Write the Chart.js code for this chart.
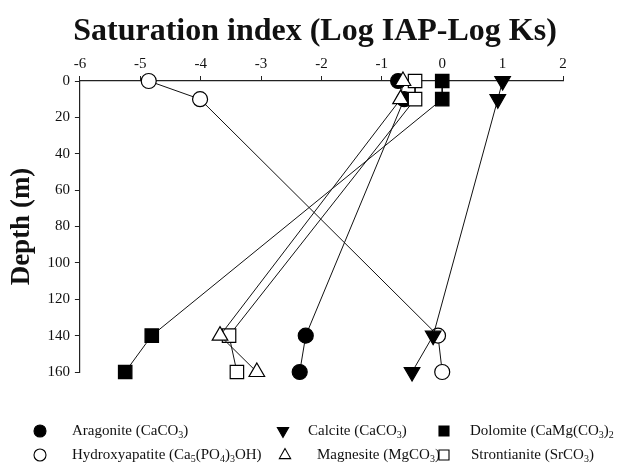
<!DOCTYPE html>
<html>
<head>
<meta charset="utf-8">
<script src="https://cdn.jsdelivr.net/npm/chart.js@4/dist/chart.umd.min.js"></script>
<style>
  html, body { margin: 0; padding: 0; background: #fff; }
  #wrap { width: 618px; height: 463px; }
</style>
</head>
<body>
<div id="wrap"><canvas id="c" width="618" height="463"></canvas></div>
<script>
// Sampling depths (m)
const depths = [0, 10, 140, 160];

// Saturation index per mineral at each depth
const aragonite      = [-0.73, -0.63, -2.26, -2.36];
const calcite        = [1.00, 0.92, -0.15, -0.50];
const dolomite       = [0.00, 0.00, -4.81, -5.25];
const hydroxyapatite = [-4.86, -4.01, -0.07, 0.00];
const magnesite      = [-0.65, -0.69, -3.68, -3.07];
const strontianite   = [-0.45, -0.45, -3.53, -3.40];

// Mineral names (digits in formulas are drawn as subscripts)
const names = [
  'Aragonite (CaCO3)',
  'Calcite (CaCO3)',
  'Dolomite (CaMg(CO3)2',
  'Hydroxyapatite (Ca5(PO4)3OH)',
  'Magnesite (MgCO3)',
  'Strontianite (SrCO3)'
];

const xTicks = [-6, -5, -4, -3, -2, -1, 0, 1, 2];
const yTicks = [0, 20, 40, 60, 80, 100, 120, 140, 160];

const titleText = 'Saturation index (Log IAP-Log Ks)';

const SERIF = '"Liberation Serif", "Times New Roman", serif';

function pts(vals) {
  return vals.map((v, i) => ({ x: v, y: depths[i] }));
}

// marker styles: [pointStyle, filled, rotation, radius]
const styles = [
  ['circle',   true,  0,   7.5],
  ['triangle', true,  180, 9],
  ['rect',     true,  0,   9.5],
  ['circle',   false, 0,   7.5],
  ['triangle', false, 0,   9],
  ['rect',     false, 0,   9.5]
];
const series = [aragonite, calcite, dolomite, hydroxyapatite, magnesite, strontianite];
const drawOrder = [5, 2, 4, 6, 1, 3];

const datasets = series.map((vals, i) => {
  const [ps, filled, rot, r] = styles[i];
  return {
    label: names[i],
    data: pts(vals),
    showLine: true,
    borderColor: '#111',
    borderWidth: 1,
    pointStyle: ps,
    rotation: rot,
    radius: r,
    pointRadius: r,
    pointHoverRadius: r,
    pointBackgroundColor: filled ? '#000' : '#fff',
    pointBorderColor: '#000',
    pointBorderWidth: 1.2,
    order: drawOrder[i],
    clip: false
  };
});

// Legend: two rows of three entries, markers drawn in the series' styles
const legendPos = [
  { mx: 40,  tx: 72,  y: 431 },
  { mx: 283, tx: 308, y: 431 },
  { mx: 444, tx: 470, y: 431 },
  { mx: 40,  tx: 72,  y: 455 },
  { mx: 285, tx: 317, y: 455 },
  { mx: 444, tx: 471, y: 455 }
];

function drawMarker(ctx, style, x, y) {
  const [ps, filled, rot] = style;
  ctx.save();
  ctx.fillStyle = filled ? '#000' : '#fff';
  ctx.strokeStyle = '#000';
  ctx.lineWidth = 1.1;
  ctx.beginPath();
  if (ps === 'circle') {
    ctx.arc(x, y, 6, 0, Math.PI * 2);
  } else if (ps === 'rect') {
    ctx.rect(x - 5, y - 5, 10, 10);
  } else {
    const r = 6.5;
    const dir = rot === 180 ? -1 : 1;
    ctx.moveTo(x, y - dir * r);
    ctx.lineTo(x - r * 0.87, y + dir * r * 0.55);
    ctx.lineTo(x + r * 0.87, y + dir * r * 0.55);
    ctx.closePath();
  }
  ctx.fill();
  ctx.stroke();
  ctx.restore();
}

function drawFormula(ctx, text, x, y) {
  const big = '15px ' + SERIF;
  const small = '10px ' + SERIF;
  ctx.textBaseline = 'middle';
  ctx.textAlign = 'left';
  let cx = x;
  for (const ch of text) {
    const sub = /[0-9]/.test(ch);
    ctx.font = sub ? small : big;
    ctx.fillText(ch, cx, sub ? y + 4 : y);
    cx += ctx.measureText(ch).width;
  }
}

const decorPlugin = {
  id: 'titleAndLegend',
  afterDraw(chart) {
    const ctx = chart.ctx;
    ctx.save();
    // title
    ctx.fillStyle = '#111';
    ctx.font = 'bold 32px ' + SERIF;
    ctx.textAlign = 'center';
    ctx.textBaseline = 'alphabetic';
    ctx.fillText(titleText, 315, 40);
    // legend
    names.forEach((n, i) => {
      const p = legendPos[i];
      drawMarker(ctx, styles[i], p.mx, p.y);
      ctx.fillStyle = '#111';
      drawFormula(ctx, n, p.tx, p.y);
    });
    ctx.restore();
  }
};

new Chart(document.getElementById('c'), {
  type: 'scatter',
  data: { datasets },
  plugins: [decorPlugin],
  options: {
    responsive: false,
    animation: false,
    layout: { padding: { left: 6, right: 55, top: 52, bottom: 91 } },
    plugins: {
      legend: { display: false },
      tooltip: { enabled: false },
      title: { display: false }
    },
    scales: {
      x: {
        type: 'linear',
        position: 'top',
        min: -6,
        max: 2,
        afterBuildTicks: (axis) => { axis.ticks = xTicks.map(v => ({ value: v })); },
        ticks: {
          color: '#111',
          font: { family: SERIF, size: 15 },
          padding: 3,
          maxRotation: 0
        },
        grid: { drawOnChartArea: false, drawTicks: true, tickLength: 5, color: '#222', lineWidth: 1 },
        border: { display: true, color: '#222', width: 1.2 }
      },
      y: {
        type: 'linear',
        reverse: true,
        min: 0,
        max: 160,
        afterBuildTicks: (axis) => { axis.ticks = yTicks.map(v => ({ value: v })); },
        ticks: {
          color: '#111',
          font: { family: SERIF, size: 15 },
          padding: 5
        },
        title: {
          display: true,
          text: 'Depth (m)',
          color: '#111',
          font: { family: SERIF, size: 27, weight: 'bold' },
          padding: { top: 0, bottom: 4 }
        },
        grid: { drawOnChartArea: false, drawTicks: true, tickLength: 5, color: '#222', lineWidth: 1 },
        border: { display: true, color: '#222', width: 1.2 }
      }
    }
  }
});
</script>
</body>
</html>
